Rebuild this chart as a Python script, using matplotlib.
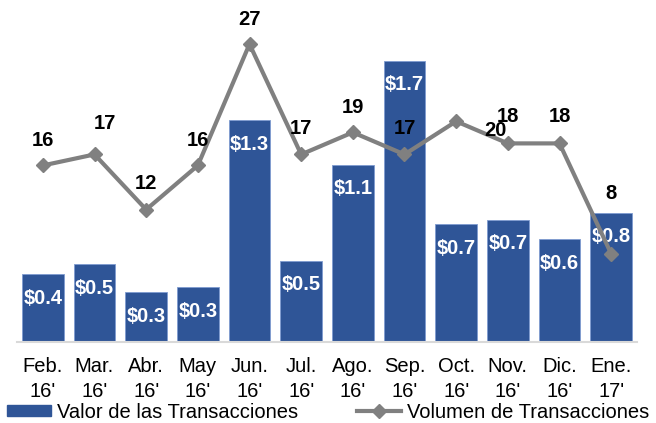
import matplotlib.pyplot as plt
from matplotlib.patches import Patch
from matplotlib.lines import Line2D

plt.rcParams['font.family'] = ['Liberation Sans', 'DejaVu Sans']

# Datos
meses = ["Feb.\n16'", "Mar.\n16'", "Abr.\n16'", "May\n16'", "Jun.\n16'", "Jul.\n16'",
         "Ago.\n16'", "Sep.\n16'", "Oct.\n16'", "Nov.\n16'", "Dic.\n16'", "Ene.\n17'"]
valor = [0.41, 0.47, 0.30, 0.33, 1.34, 0.49, 1.07, 1.70, 0.71, 0.74, 0.62, 0.78]
volumen = [16, 17, 12, 16, 27, 17, 19, 17, 20, 18, 18, 8]

# desplazamiento (px) de las etiquetas del volumen, movidas a mano en el original
offsets = [(0, 25), (10, 31), (0, 26), (0, 25), (0, 25), (0, 26),
           (0, 25), (0, 26), (39, -9), (0, 27), (0, 27), (0, 60)]

azul = '#2F5597'
gris = '#808080'
fs = 14.5

fig = plt.figure(figsize=(6.56, 4.23), dpi=100)
ax = fig.add_axes([17 / 656, 1 - 342 / 423, 620 / 656, 331 / 423])
x = list(range(len(meses)))

bars = ax.bar(x, valor, width=0.81, color=azul, edgecolor='#7F9BD0', linewidth=0.6, zorder=2)
for xi, v in zip(x, valor):
    ax.annotate(f'${v:.1f}', (xi, v), xytext=(0, -24), textcoords='offset pixels',
                ha='center', va='center', color='white', fontsize=fs, fontweight='bold')

ax.set_xlim(-0.5, len(meses) - 0.5)
ax.set_ylim(0, 2.0)
ax.set_yticks([])
ax.set_xticks(x)
ax.set_xticklabels(meses, fontsize=fs, linespacing=1.35)
ax.tick_params(axis='x', length=0, pad=11)
for s in ['top', 'right', 'left']:
    ax.spines[s].set_visible(False)
ax.spines['bottom'].set_color('#D9D9D9')
ax.spines['bottom'].set_linewidth(1.5)

ax2 = ax.twinx()
ax2.plot(x, volumen, color=gris, linewidth=3, marker='D', markersize=7, zorder=3)
for xi, v, (dx, dy) in zip(x, volumen, offsets):
    ax2.annotate(str(v), (xi, v), xytext=(dx, dy), textcoords='offset pixels',
                 ha='center', va='center', color='black', fontsize=fs, fontweight='bold')
ax2.set_ylim(0, 30)
ax2.set_yticks([])
for s in ax2.spines.values():
    s.set_visible(False)

handles = [Patch(facecolor=azul, edgecolor=azul),
           Line2D([0], [0], color=gris, linewidth=3, marker='D', markersize=7)]
fig.legend(handles, ['Valor de las Transacciones', 'Volumen de Transacciones'],
           loc='center left', bbox_to_anchor=(7 / 656, 1 - 412 / 423), ncol=2,
           frameon=False, fontsize=fs, handlelength=2.2, handleheight=0.45,
           handletextpad=0.3, columnspacing=2.9, borderpad=0, borderaxespad=0)

fig.savefig('out.png', dpi=100)
